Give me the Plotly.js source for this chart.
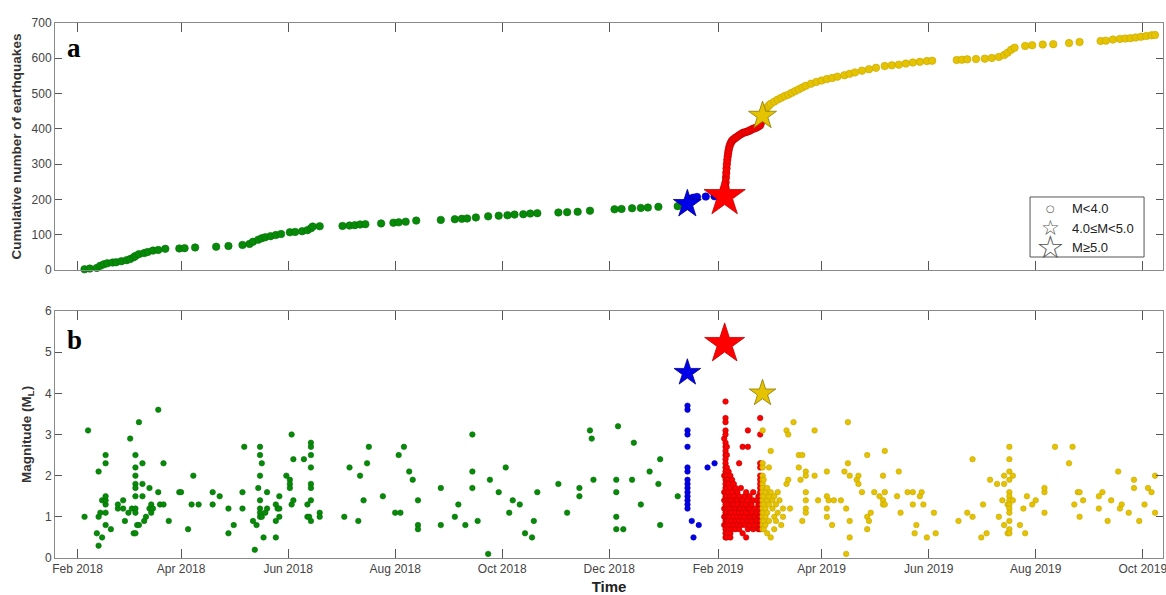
<!DOCTYPE html>
<html><head><meta charset="utf-8">
<script src="https://cdn.plot.ly/plotly-3.0.1.min.js"></script>
<style>html,body{margin:0;padding:0;background:#fff;}#chart{width:1166px;height:595px;}</style>
</head><body><div id="chart"></div>
<script>
// ---------- Panel a: cumulative number of earthquakes (date, count) ----------
const greenCum = [
["2018-02-05",2],["2018-02-08",4],["2018-02-12",6],["2018-02-14",12],["2018-02-16",16],["2018-02-18",19],
["2018-02-21",21],["2018-02-23",22],["2018-02-26",25],["2018-03-01",28],["2018-03-03",31],["2018-03-05",36],
["2018-03-06",40],["2018-03-08",45],["2018-03-11",48],["2018-03-13",51],["2018-03-16",55],["2018-03-19",57],
["2018-03-23",60],["2018-03-31",61],["2018-04-03",62],["2018-04-09",64],["2018-04-21",66],["2018-04-28",68],
["2018-05-06",71],["2018-05-10",74],["2018-05-12",80],["2018-05-15",86],["2018-05-17",90],["2018-05-19",93],
["2018-05-22",96],["2018-05-25",99],["2018-05-28",102],["2018-06-02",107],["2018-06-05",108],["2018-06-09",110],
["2018-06-12",113],["2018-06-14",118],["2018-06-15",123],["2018-06-19",124],["2018-07-02",125],["2018-07-06",126],
["2018-07-09",127],["2018-07-12",129],["2018-07-15",130],["2018-07-24",132],["2018-07-31",134],["2018-08-03",135],
["2018-08-07",137],["2018-08-13",140],["2018-08-27",142],["2018-09-04",144],["2018-09-08",145],["2018-09-11",146],
["2018-09-16",149],["2018-09-23",152],["2018-09-29",154],["2018-10-04",155],["2018-10-08",157],["2018-10-13",158],
["2018-10-17",160],["2018-10-21",161],["2018-11-02",163],["2018-11-07",164],["2018-11-13",165],["2018-11-20",168],
["2018-12-04",172],["2018-12-08",173],["2018-12-14",175],["2018-12-19",176],["2018-12-23",177],["2018-12-29",179],
["2019-01-09",181]
];
const blueCum = [
["2019-01-14 06:00",183],["2019-01-14 18:00",192],["2019-01-15",197],["2019-01-16",201],["2019-01-17",203],
["2019-01-18",205],["2019-01-20",207],["2019-01-25",208],["2019-01-30",209]
];
const redCum = [
["2019-02-05 00:00",222],["2019-02-05 04:00",235],["2019-02-05 08:00",248],["2019-02-05 12:00",262],
["2019-02-05 16:00",275],["2019-02-05 20:00",288],["2019-02-06 00:00",300],["2019-02-06 06:00",312],
["2019-02-06 12:00",322],["2019-02-06 18:00",331],["2019-02-07 00:00",339],["2019-02-07 08:00",347],
["2019-02-07 18:00",354],["2019-02-08 06:00",360],["2019-02-08 18:00",365],["2019-02-09 12:00",369],
["2019-02-10 06:00",372],["2019-02-11 00:00",375],["2019-02-12 00:00",378],["2019-02-13 00:00",382],
["2019-02-14 00:00",385],["2019-02-15 00:00",388],["2019-02-16 00:00",390],["2019-02-17 00:00",391],
["2019-02-18 00:00",393],["2019-02-19 00:00",395],["2019-02-20 00:00",398],["2019-02-21 00:00",400],
["2019-02-22 00:00",402],["2019-02-23 00:00",404],["2019-02-24 00:00",407],["2019-02-25 00:00",410],
["2019-02-25 08:00",416],["2019-02-25 16:00",424],["2019-02-26 00:00",431]
];
const yellowCum = [
["2019-02-26 16:00",443],["2019-02-27",449],["2019-02-28",455],["2019-03-01",461],["2019-03-02",466],
["2019-03-03",471],["2019-03-05",477],["2019-03-07",483],["2019-03-09",488],["2019-03-11",493],["2019-03-13",497],
["2019-03-15",502],["2019-03-17",507],["2019-03-19",512],["2019-03-21",517],["2019-03-23",522],["2019-03-26",528],
["2019-03-29",533],["2019-04-01",537],["2019-04-04",541],["2019-04-07",544],["2019-04-10",548],["2019-04-14",552],
["2019-04-17",556],["2019-04-20",560],["2019-04-24",565],["2019-04-28",569],["2019-05-02",573],["2019-05-07",578],
["2019-05-11",580],["2019-05-15",582],["2019-05-19",585],["2019-05-23",588],["2019-05-27",590],["2019-05-31",592],
["2019-06-03",593],["2019-06-17",595],["2019-06-20",596],["2019-06-23",597],["2019-06-28",598],["2019-07-03",599],
["2019-07-07",601],["2019-07-11",604],["2019-07-14",609],["2019-07-16",616],["2019-07-18",624],["2019-07-20",630],
["2019-07-26",635],["2019-07-30",637],["2019-08-05",639],["2019-08-11",640],["2019-08-20",643],["2019-08-26",646],
["2019-09-07",649],["2019-09-10",650],["2019-09-14",653],["2019-09-18",655],["2019-09-21",656],["2019-09-24",657],
["2019-09-27",659],["2019-09-30",661],["2019-10-03",663],["2019-10-06",665],["2019-10-08",666]
];

// ---------- Panel b: magnitude (ML) of each event, grouped by date ----------
const greenMag = [
["2018-02-05",[1.0]],["2018-02-07",[3.1]],["2018-02-12",[0.6]],["2018-02-13",[0.3,2.1,1.0]],["2018-02-14",[1.1]],
["2018-02-15",[0.5,1.4]],["2018-02-17",[1.3,1.4,2.5,2.3,1.5,1.1,0.8]],["2018-02-20",[0.7]],["2018-02-24",[1.2,1.3]],
["2018-02-27",[1.4,1.2]],["2018-02-28",[0.9]],["2018-03-02",[1.1]],["2018-03-03",[2.9]],["2018-03-04",[1.2]],
["2018-03-05",[0.6]],["2018-03-06",[2.5,2.2,2.0,1.8,1.7,1.5,1.2,1.1,0.6]],["2018-03-07",[0.8]],["2018-03-08",[3.3,0.8]],
["2018-03-10",[2.3,1.8,1.5]],["2018-03-11",[0.9]],["2018-03-12",[1.0]],["2018-03-14",[1.7,1.2]],["2018-03-15",[1.3,1.1]],
["2018-03-16",[1.2]],["2018-03-19",[3.6,1.6]],["2018-03-20",[1.3]],["2018-03-22",[2.3,1.3]],["2018-03-25",[0.9]],
["2018-03-31",[1.6]],["2018-04-01",[1.6]],["2018-04-05",[0.7]],["2018-04-07",[1.3]],["2018-04-08",[2.0]],
["2018-04-11",[1.3]],["2018-04-19",[1.6,1.3]],["2018-04-23",[1.5]],["2018-04-28",[1.2,0.6]],["2018-05-01",[0.8]],
["2018-05-06",[1.2,1.6]],["2018-05-07",[2.7]],["2018-05-12",[0.9]],["2018-05-13",[0.2]],["2018-05-14",[0.8]],
["2018-05-15",[1.7]],["2018-05-16",[2.7,2.5,2.0,1.4,1.2,1.1,1.0]],["2018-05-17",[2.3,1.0]],["2018-05-18",[0.5]],
["2018-05-19",[1.1]],["2018-05-20",[1.6,1.2]],["2018-05-25",[0.5,1.3,0.9]],["2018-05-26",[1.2]],["2018-05-27",[1.5,1.2,1.0]],
["2018-05-31",[2.0]],["2018-06-02",[1.9,1.8,1.7]],["2018-06-03",[3.0,1.3]],["2018-06-04",[1.4,2.4]],["2018-06-10",[2.4]],
["2018-06-12",[1.0,1.3]],["2018-06-13",[1.0]],["2018-06-14",[2.8,2.7,2.5,2.2,1.8,1.7,1.4,0.9]],["2018-06-19",[1.1,1.0]],
["2018-07-03",[1.0]],["2018-07-06",[2.2]],["2018-07-11",[0.9]],["2018-07-12",[2.0]],["2018-07-14",[1.4]],["2018-07-16",[2.3]],
["2018-07-17",[2.7]],["2018-07-25",[1.5]],["2018-08-01",[1.1]],["2018-08-03",[2.5]],["2018-08-04",[1.1]],["2018-08-06",[2.7]],
["2018-08-09",[2.1]],["2018-08-11",[1.9]],["2018-08-14",[1.4,0.8,0.7]],["2018-08-27",[1.7,0.8]],["2018-09-04",[1.0]],
["2018-09-06",[1.3]],["2018-09-10",[0.8]],["2018-09-14",[3.0,2.1,1.7]],["2018-09-17",[0.9]],["2018-09-23",[0.1]],
["2018-09-24",[1.9]],["2018-09-29",[1.6]],["2018-10-03",[2.2]],["2018-10-05",[1.1]],["2018-10-07",[1.4]],["2018-10-11",[1.3]],
["2018-10-14",[0.6]],["2018-10-18",[0.5]],["2018-10-19",[0.9]],["2018-10-21",[1.6]],["2018-11-02",[1.8]],["2018-11-07",[1.1]],
["2018-11-14",[1.7,1.5]],["2018-11-20",[3.1]],["2018-11-21",[2.9]],["2018-11-22",[1.9]],["2018-12-05",[1.9,1.6,1.0,0.7]],
["2018-12-06",[3.2]],["2018-12-09",[0.7]],["2018-12-14",[1.9]],["2018-12-15",[2.8]],["2018-12-19",[1.3]],["2018-12-24",[2.1]],
["2018-12-29",[1.8]],["2018-12-30",[2.4,0.8]],["2019-01-09",[1.5]]
];
const blueMag = [
["2019-01-14 14:00",[3.7,3.6,3.1,3.0,2.7,2.2,2.1,1.9,1.8,1.7,1.6,1.5,1.4,1.3,1.2]],
["2019-01-17",[0.9]],["2019-01-18",[0.5]],["2019-01-21",[0.8]],["2019-01-26",[2.2]],["2019-01-30",[2.3]]
];
const redMag = [
["2019-02-04 12:00",[2.9,2.0,1.6,1.4,1.2,1.0,0.8]],
["2019-02-05 06:00",[3.8,3.4,3.3,3.1,3.0,2.8,2.7,2.6,2.5,2.4,2.3,2.2,2.1,2.0,1.9,1.8,1.7,1.6,1.5,1.4,1.3,1.2,1.1,1.0,0.9,0.8,0.7,0.6,0.5]],
["2019-02-06",[2.7,2.5,2.2,2.0,1.9,1.7,1.5,1.4,1.2,1.1,1.0,0.9,0.8,0.6,0.5]],
["2019-02-07",[2.1,1.9,1.8,1.6,1.4,1.3,1.2,1.0,0.9,0.7]],
["2019-02-08",[2.0,1.7,1.5,1.4,1.2,1.1,1.0,0.8,0.6,0.5]],
["2019-02-09",[1.9,1.6,1.4,1.3,1.1,0.9,0.7]],
["2019-02-10",[1.8,1.5,1.3,1.2,1.0,0.8]],
["2019-02-11",[1.7,1.4,1.2,1.1,0.9,0.7]],
["2019-02-12",[1.6,1.4,1.3,1.0,0.8]],
["2019-02-13",[2.3,1.5,1.2,1.1,0.9,0.7]],
["2019-02-14",[1.7,1.4,1.2,1.0,0.8]],
["2019-02-15",[2.7,1.4,1.3,1.1,0.9,0.6]],
["2019-02-16",[1.5,1.2,1.0,0.8]],
["2019-02-17",[1.6,1.3,1.1,0.5]],
["2019-02-18",[3.1,2.7,1.4,1.2,0.9,0.7]],
["2019-02-19",[1.5,1.2,1.0,0.8]],
["2019-02-20",[1.3,1.1,0.9]],
["2019-02-21",[1.6,1.4,1.0,0.7]],
["2019-02-22",[1.2,1.0,0.8]],
["2019-02-23",[1.4,1.1,0.9]],
["2019-02-24",[1.5,1.3,1.0,0.7]],
["2019-02-25",[3.4,3.0,2.3,2.2,2.0,1.9,1.8,1.7,1.6,1.5,1.4,1.3,1.2,1.1,1.0,0.9,0.8,0.7]]
];
const yellowMag = [
["2019-02-26 10:00",[3.1,2.3,2.2,2.0,1.9,1.8,1.7,1.6,1.5,1.4,1.3,1.2,1.1,1.0,0.9,0.8,0.7]],
["2019-02-27",[1.9,1.5,1.3,1.1,0.9,0.7]],["2019-02-28",[1.6,1.2,1.0,0.8]],["2019-03-01",[1.7,1.4,1.1,0.6]],
["2019-03-02",[2.2,1.5,1.3,0.9]],["2019-03-03",[2.6,1.6,0.5]],["2019-03-04",[1.4,1.2]],["2019-03-05",[1.5,1.0,0.7]],
["2019-03-06",[1.3,0.9]],["2019-03-07",[1.6,1.1]],["2019-03-08",[1.4]],["2019-03-09",[0.8]],["2019-03-10",[1.2,1.0]],
["2019-03-12",[3.1,1.8]],["2019-03-13",[3.0,1.9]],["2019-03-14",[1.2]],["2019-03-16",[3.3]],["2019-03-19",[2.5,2.2]],
["2019-03-20",[1.9]],["2019-03-21",[2.5,0.9]],["2019-03-23",[2.1,2.0,1.6,1.4,1.2,1.1]],["2019-03-28",[3.1,2.0]],
["2019-03-30",[1.4]],["2019-04-04",[2.1,1.5,1.2,1.0]],["2019-04-05",[1.4]],["2019-04-07",[0.8]],["2019-04-08",[1.4]],
["2019-04-12",[1.4]],["2019-04-14",[2.1]],["2019-04-15",[1.2,0.1]],["2019-04-16",[3.3,2.3]],["2019-04-17",[0.9,0.5,2.0]],
["2019-04-21",[1.9]],["2019-04-22",[1.8,2.0]],["2019-04-24",[1.6]],["2019-04-27",[2.5,0.7,1.0]],["2019-04-28",[0.9]],
["2019-04-29",[1.1]],["2019-05-01",[1.6]],["2019-05-04",[1.5]],["2019-05-06",[2.0,1.4,1.3]],["2019-05-07",[2.6,1.6,1.3]],
["2019-05-14",[1.5]],["2019-05-15",[2.1]],["2019-05-16",[1.1]],["2019-05-20",[1.6]],["2019-05-23",[1.6,1.3]],
["2019-05-24",[0.6]],["2019-05-25",[0.8]],["2019-05-27",[1.5]],["2019-05-28",[1.6]],["2019-05-29",[1.3]],
["2019-05-31",[0.5]],["2019-06-04",[1.1]],["2019-06-05",[0.6]],["2019-06-18",[0.9]],["2019-06-23",[1.1]],
["2019-06-26",[1.0,2.4]],["2019-07-01",[0.5]],["2019-07-02",[1.3]],["2019-07-04",[0.6]],["2019-07-06",[1.9]],
["2019-07-10",[1.8]],["2019-07-11",[1.0]],["2019-07-13",[1.4]],["2019-07-14",[2.0,1.8,0.8]],["2019-07-16",[1.3,0.6]],
["2019-07-17",[2.7,2.4,2.1,1.9,1.6,1.5,1.4,1.3,1.2,1.1,0.9,0.7,0.6]],["2019-07-19",[1.4,2.0]],["2019-07-23",[0.8]],
["2019-07-25",[1.2]],["2019-07-26",[0.6]],["2019-07-27",[1.5]],["2019-07-30",[1.3]],["2019-08-01",[1.4]],
["2019-08-06",[1.1,1.6,1.7]],["2019-08-12",[2.7]],["2019-08-20",[2.3]],["2019-08-22",[2.7]],["2019-08-23",[1.3]],
["2019-08-25",[1.6]],["2019-08-26",[1.6,1.0]],["2019-08-28",[1.4]],["2019-09-06",[1.5,1.2]],["2019-09-08",[1.6]],
["2019-09-11",[0.9]],["2019-09-13",[1.4]],["2019-09-17",[2.1]],["2019-09-18",[1.2]],["2019-09-19",[1.3]],
["2019-09-23",[1.1]],["2019-09-26",[1.9,1.7]],["2019-09-29",[0.9]],["2019-10-02",[1.3]],["2019-10-04",[1.7]],
["2019-10-06",[1.6]],["2019-10-08",[2.0,1.1]]
];

// ---------- the three largest events (stars) ----------
const starDates = ["2019-01-14 12:00","2019-02-04 18:00","2019-02-26 08:00"];
const starCum = [187, 209, 437];
const starMag = [4.5, 5.2, 4.0];

// ---------- legend labels ----------
const legendLabels = ["M&lt;4.0","4.0≤M&lt;5.0","M≥5.0"];
const legendGlyphs = ["○","☆","☆"];

// ---------- styling ----------
const COL = {green:"#078a07", blue:"#0000e8", red:"#ff0000", yellow:"#e6c300"};
const EDGE = {green:"#05700a", blue:"#0000b0", red:"#b80000", yellow:"#c4a600"};
const starColors = [COL.blue, COL.red, COL.yellow];
const starEdges = ["#00008a","#c00000","#8a7a00"];

function pairs(arr){ return {x: arr.map(p=>p[0]), y: arr.map(p=>p[1])}; }
function groups(arr){ const x=[],y=[]; arr.forEach(g=>g[1].forEach(v=>{x.push(g[0]);y.push(v);})); return {x,y}; }

const traces = [];
function dots(d, key, xa, ya, size){
  traces.push({type:"scatter", mode:"markers", x:d.x, y:d.y, xaxis:xa, yaxis:ya, showlegend:false,
    cliponaxis:false, hoverinfo:"skip",
    marker:{color:COL[key], size:size, opacity:1, line:{color:EDGE[key], width:0.6}}});
}
dots(pairs(greenCum),"green","x","y",7.5);
dots(pairs(blueCum),"blue","x","y",7.5);
dots(pairs(redCum),"red","x","y",7.5);
dots(pairs(yellowCum),"yellow","x","y",7.5);
dots(groups(greenMag),"green","x2","y2",5.5);
dots(groups(blueMag),"blue","x2","y2",5.5);
dots(groups(redMag),"red","x2","y2",5.5);
dots(groups(yellowMag),"yellow","x2","y2",5.5);

traces.push({type:"scatter", mode:"markers", x:starDates, y:starCum, xaxis:"x", yaxis:"y", showlegend:false,
  cliponaxis:false, hoverinfo:"skip",
  marker:{symbol:"star", color:starColors, size:[21,31,21], opacity:1, line:{color:starEdges, width:0.8}}});
traces.push({type:"scatter", mode:"markers", x:starDates, y:starMag, xaxis:"x2", yaxis:"y2", showlegend:false,
  cliponaxis:false, hoverinfo:"skip",
  marker:{symbol:"star", color:starColors, size:[20,30,20], opacity:1, line:{color:starEdges, width:0.8}}});

const FONT = "Liberation Sans, Arial, sans-serif";
const axisCommon = {showline:true, linecolor:"#8a8a8a", linewidth:1, mirror:"ticks", ticks:"inside",
  tickcolor:"#555", tickwidth:1, showgrid:false, zeroline:false, ticklabeloverflow:"allow",
  tickfont:{family:FONT, size:12, color:"#444"}};
const xRange = ["2018-01-19 04:00","2019-10-12 13:00"];

// manual legend box (paper coordinates)
const legRowY = [0.6542, 0.6168, 0.5813];
const legGlyphSize = [10, 21, 32];
const annotations = [
  {xref:"paper", yref:"paper", x:0.009, y:0.953, xanchor:"left", yanchor:"middle", showarrow:false,
   text:"<b>a</b>", font:{family:"Liberation Serif, Times New Roman, serif", size:27, color:"#000"}},
  {xref:"paper", yref:"paper", x:0.009, y:0.4075, xanchor:"left", yanchor:"middle", showarrow:false,
   text:"<b>b</b>", font:{family:"Liberation Serif, Times New Roman, serif", size:27, color:"#000"}}
];
legendLabels.forEach((lab,i)=>{
  annotations.push({xref:"paper", yref:"paper", x:0.8989, y:legRowY[i], xanchor:"center", yanchor:"middle",
    showarrow:false, text:legendGlyphs[i], font:{family:"DejaVu Sans", size:legGlyphSize[i], color:"#555"}});
  annotations.push({xref:"paper", yref:"paper", x:0.9161, y:legRowY[i], xanchor:"left", yanchor:"middle",
    showarrow:false, text:lab, font:{family:FONT, size:13, color:"#222"}});
});

const layout = {
  width:1166, height:595, paper_bgcolor:"#fff", plot_bgcolor:"#fff",
  margin:{l:55, r:3, t:23, b:37},
  showlegend:false,
  xaxis: Object.assign({}, axisCommon, {domain:[0,1], anchor:"y", type:"date", range:xRange,
    tick0:"2018-02-01", dtick:"M2", ticklen:9, showticklabels:false}),
  yaxis: Object.assign({}, axisCommon, {domain:[0.5383,1], anchor:"x", range:[0,700], dtick:100, ticklen:7,
    title:{text:"Cumulative number of earthquakes", font:{family:FONT, size:13.5, color:"#333", weight:700}, standoff:6}}),
  xaxis2: Object.assign({}, axisCommon, {domain:[0,1], anchor:"y2", type:"date", range:xRange,
    tick0:"2018-02-01", dtick:"M2", tickformat:"%b %Y", ticklen:9,
    title:{text:"Time", font:{family:FONT, size:15, color:"#222", weight:700}, standoff:7}}),
  yaxis2: Object.assign({}, axisCommon, {domain:[0,0.4617], anchor:"x2", range:[0,6], dtick:1, ticklen:7,
    title:{text:"Magnitude (M<sub>L</sub>)", font:{family:FONT, size:13.5, color:"#333", weight:700}, standoff:10}}),
  shapes:[{type:"rect", xref:"paper", yref:"paper", x0:0.8800, x1:0.9829, y0:0.5626, y1:0.6748,
    fillcolor:"#fff", line:{color:"#555", width:1}, layer:"above"}],
  annotations: annotations
};

Plotly.newPlot("chart", traces, layout, {staticPlot:true, displayModeBar:false});
</script></body></html>
